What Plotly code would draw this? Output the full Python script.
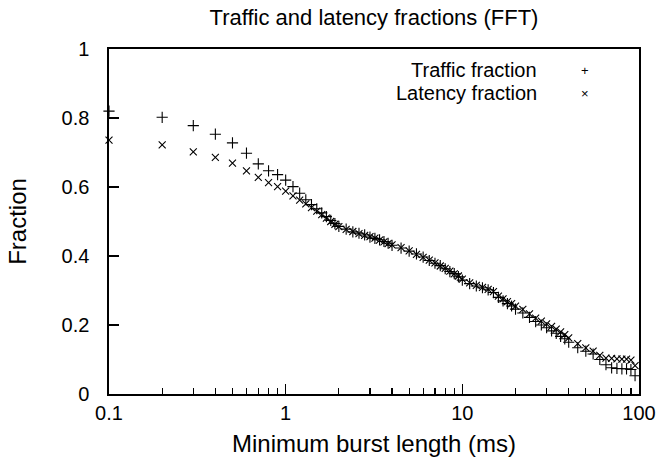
import plotly.graph_objects as go

burst_ms = [0.1, 0.2, 0.3, 0.4, 0.5, 0.6, 0.7, 0.8, 0.9, 1.0,
            1.1, 1.2, 1.3, 1.4, 1.5, 1.6, 1.7, 1.8, 1.9, 2.0,
            2.2, 2.4, 2.6, 2.8, 3.0, 3.2, 3.4, 3.6, 3.8, 4.0,
            4.5, 5.0, 5.5, 6.0, 6.5, 7.0, 7.5, 8.0, 8.5, 9.0, 9.5, 10,
            11, 12, 13, 14, 15, 16, 17, 18, 19, 20,
            22, 24, 26, 28, 30, 32, 34, 36, 38, 40,
            45, 50, 55, 60, 65, 70, 75, 80, 85, 90, 95]

traffic_fraction = [0.820, 0.802, 0.778, 0.753, 0.728, 0.698, 0.667, 0.647, 0.636, 0.620,
                    0.601, 0.582, 0.563, 0.549, 0.537, 0.525, 0.514, 0.503, 0.494, 0.486,
                    0.478, 0.470, 0.466, 0.461, 0.455, 0.451, 0.447, 0.442, 0.437, 0.431,
                    0.423, 0.414, 0.406, 0.397, 0.387, 0.379, 0.372, 0.363, 0.355, 0.349, 0.340, 0.330,
                    0.320, 0.313, 0.308, 0.302, 0.294, 0.280, 0.270, 0.262, 0.255, 0.246,
                    0.235, 0.222, 0.210, 0.200, 0.192, 0.183, 0.176, 0.167, 0.160, 0.150,
                    0.134, 0.124, 0.116, 0.100, 0.085, 0.076, 0.074, 0.073, 0.073, 0.071, 0.053]

latency_fraction = [0.736, 0.722, 0.702, 0.686, 0.669, 0.647, 0.628, 0.613, 0.601, 0.588,
                    0.574, 0.562, 0.551, 0.540, 0.530, 0.520, 0.510, 0.500, 0.492, 0.485,
                    0.477, 0.471, 0.465, 0.460, 0.456, 0.452, 0.446, 0.441, 0.436, 0.432,
                    0.424, 0.415, 0.405, 0.396, 0.388, 0.380, 0.371, 0.364, 0.356, 0.348, 0.342, 0.333,
                    0.322, 0.315, 0.309, 0.303, 0.297, 0.284, 0.276, 0.268, 0.262, 0.255,
                    0.245, 0.232, 0.220, 0.211, 0.203, 0.196, 0.188, 0.180, 0.172, 0.163,
                    0.146, 0.134, 0.124, 0.112, 0.104, 0.103, 0.102, 0.101, 0.101, 0.098, 0.082]

x_tick_vals = [0.1, 1, 10, 100]
x_tick_text = ["0.1", "1", "10", "100"]
x_minor_vals = [0.2, 0.3, 0.4, 0.5, 0.6, 0.7, 0.8, 0.9,
                2, 3, 4, 5, 6, 7, 8, 9,
                20, 30, 40, 50, 60, 70, 80, 90]
y_tick_vals = [0, 0.2, 0.4, 0.6, 0.8, 1]
y_tick_text = ["0", "0.2", "0.4", "0.6", "0.8", "1"]

series_names = ["Traffic fraction", "Latency fraction"]

FONT = "Liberation Sans, Arial, sans-serif"
FS = 20

fig = go.Figure()
fig.add_trace(go.Scatter(
    x=burst_ms, y=traffic_fraction, mode="markers", name=series_names[0],
    marker=dict(symbol="cross-thin", size=8, line=dict(color="black", width=1.1)),
    cliponaxis=False))
fig.add_trace(go.Scatter(
    x=burst_ms, y=latency_fraction, mode="markers", name=series_names[1],
    marker=dict(symbol="x-thin", size=7, line=dict(color="black", width=1.1)),
    cliponaxis=False))

fig.update_layout(
    width=662, height=461,
    margin=dict(l=109, r=23, t=49, b=67, autoexpand=False),
    paper_bgcolor="white", plot_bgcolor="white",
    font=dict(family=FONT, size=FS, color="black"),
    showlegend=False,
    title=dict(text="Traffic and latency fractions (FFT)", x=0.5, xref="paper",
               y=1 - 17 / 461, yanchor="middle", font=dict(size=22)),
)

fig.update_xaxes(
    type="log", range=[-1, 2], automargin=False,
    tickvals=x_tick_vals, ticktext=x_tick_text,
    ticks="inside", ticklen=10, tickwidth=1.2, tickcolor="black",
    minor=dict(tickvals=x_minor_vals, ticks="inside", ticklen=6, tickwidth=1.2, tickcolor="black"),
    showline=True, linecolor="black", linewidth=1.6, mirror=True,
    showgrid=False, zeroline=False, ticklabelstandoff=0,
    title=dict(text="Minimum burst length (ms)", standoff=12),
)
fig.update_yaxes(
    range=[0, 1], automargin=False,
    tickvals=y_tick_vals, ticktext=y_tick_text,
    ticks="inside", ticklen=10, tickwidth=1.2, tickcolor="black",
    showline=True, linecolor="black", linewidth=1.6, mirror=True,
    showgrid=False, zeroline=False, ticklabelstandoff=14,
    title=dict(text="Fraction", standoff=28),
)

legend_y = [0.939, 0.872]
legend_sym = ["+", "×"]
for name, yy, sym in zip(series_names, legend_y, legend_sym):
    fig.add_annotation(x=0.811, y=yy, xref="paper", yref="paper", text=name,
                       showarrow=False, xanchor="right", yanchor="middle",
                       font=dict(size=FS))
    fig.add_annotation(x=0.898, y=yy, xref="paper", yref="paper", text=sym,
                       showarrow=False, xanchor="center", yanchor="middle",
                       font=dict(size=13))

fig.write_html("out.html",
               config={"displayModeBar": False, "staticPlot": True},
               post_script="document.body.style.margin='0';document.body.style.overflow='hidden';")
